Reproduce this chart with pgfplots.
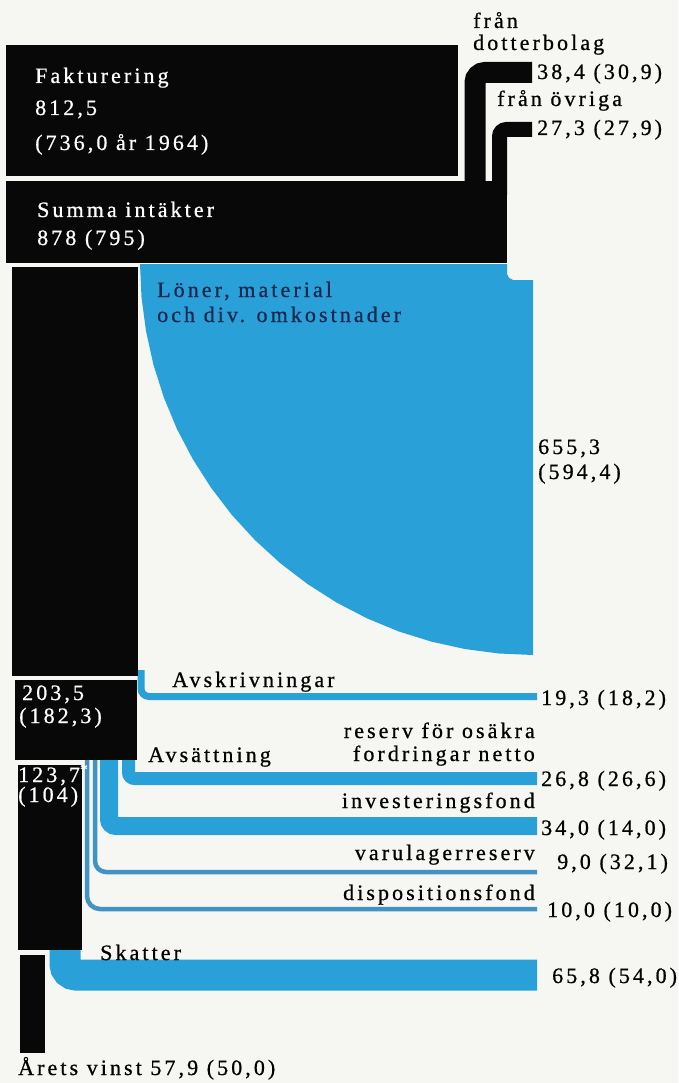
\documentclass[border=0pt]{standalone}
\usepackage{fontspec}
\setmainfont{Liberation Serif}[LetterSpace=14, FakeBold=0.7]
\usepackage{pgfplots}
\pgfplotsset{compat=1.18}

\definecolor{papper}{RGB}{246,246,242}
\definecolor{svart}{RGB}{8,8,8}
\definecolor{bla}{RGB}{41,161,216}
\definecolor{tunnbla}{RGB}{66,146,196}
\definecolor{marin}{RGB}{25,40,78}

\tikzset{
  lab/.style={anchor=base west, inner sep=0pt, font=\fontsize{22}{26}\selectfont, text=black},
  labr/.style={lab, anchor=base east},
  vit/.style={lab, text=white},
}

\begin{document}
\begin{tikzpicture}
\begin{axis}[
    width=678pt, height=1083pt, scale only axis,
    xmin=0, xmax=678, ymin=0, ymax=1083,
    y dir=reverse,
    hide axis,
    clip=false,
  ]

  % bakgrund
  \addplot[fill=papper, draw=none] coordinates {(0,0) (678,0) (678,1083) (0,1083)};

  % Löner, material och div. omkostnader
  \addplot[fill=bla, draw=none] coordinates {
    (140,264) (507,264) (507,274) (509,278) (513,280) (533,280) (533,655)
    (498.7,653.5) (464.8,649.0) (431.3,641.6) (398.6,631.4) (366.9,618.3)
    (336.5,602.5) (307.6,584.1) (280.4,563.3) (255.1,540.2) (231.9,515.0)
    (211.1,487.8) (192.7,459.0) (176.8,428.7) (163.7,397.1) (153.4,364.5)
    (146.0,331.1) (141.5,297.2) (140,264)
  };

  % intäkter från dotterbolag och övriga
  \addplot[draw=svart, line width=21pt, rounded corners=10pt] coordinates {(532,72.5) (475,72.5) (475,195)};
  \addplot[draw=svart, line width=15pt, rounded corners=7pt] coordinates {(532,129.5) (499.5,129.5) (499.5,195)};

  % utflöden
  \addplot[draw=bla, line width=7pt, rounded corners=8pt] coordinates {(141,670) (141,696.5) (537,696.5)};
  \addplot[draw=bla, line width=13pt, rounded corners=6pt] coordinates {(128.5,755) (128.5,778.5) (537,778.5)};
  \addplot[draw=bla, line width=18pt, rounded corners=7pt] coordinates {(109,755) (109,826) (537,826)};
  \addplot[draw=tunnbla, line width=4.5pt, rounded corners=11pt] coordinates {(95,755) (95,872) (537,872)};
  \addplot[draw=tunnbla, line width=4.5pt, rounded corners=13pt] coordinates {(87,755) (87,909) (537,909)};
  \addplot[draw=bla, line width=31pt, rounded corners=11pt] coordinates {(65,940) (65,975) (537,975)};

  % svarta block
  \addplot[fill=svart, draw=none] coordinates {(6,45) (458,45) (458,176) (6,176)};
  \addplot[fill=svart, draw=none] coordinates {(6,181) (507,181) (507,263) (6,263)};
  \addplot[fill=svart, draw=none] coordinates {(12,267) (138,267) (138,676) (12,676)};
  \addplot[fill=svart, draw=none] coordinates {(15,680) (137,680) (137,760) (15,760)};
  \addplot[fill=svart, draw=none] coordinates {(18,765) (82,765) (82,950) (18,950)};
  \addplot[fill=svart, draw=none] coordinates {(20,955) (45,955) (45,1053) (20,1053)};

  % texter
  \node[vit] at (axis cs:35,83) {Fakturering};
  \node[vit] at (axis cs:35,115) {812,5};
  \node[vit] at (axis cs:35,150) {(736,0 år 1964)};
  \node[vit] at (axis cs:37,217) {Summa intäkter};
  \node[vit] at (axis cs:37,245) {878 (795)};

  \node[lab] at (axis cs:473,28) {från};
  \node[lab] at (axis cs:473,50) {dotterbolag};
  \node[lab] at (axis cs:537,79) {38,4 (30,9)};
  \node[lab] at (axis cs:497,106) {från övriga};
  \node[lab] at (axis cs:537,135) {27,3 (27,9)};

  \node[lab, text=marin] at (axis cs:157,297) {Löner, material};
  \node[lab, text=marin] at (axis cs:157,322) {och div. omkostnader};
  \node[lab] at (axis cs:538,454) {655,3};
  \node[lab] at (axis cs:538,479) {(594,4)};

  \node[lab] at (axis cs:172,687) {Avskrivningar};
  \node[lab] at (axis cs:541,705) {19,3 (18,2)};
  \node[vit] at (axis cs:22,700) {203,5};
  \node[vit] at (axis cs:19,723) {(182,3)};
  \node[vit] at (axis cs:18,782) {123,7\textsuperscript{*}};
  \node[vit] at (axis cs:18,802) {(104)};

  \node[lab] at (axis cs:148,762) {Avsättning};
  \node[labr] at (axis cs:535,738) {reserv för osäkra};
  \node[labr] at (axis cs:535,761) {fordringar netto};
  \node[lab] at (axis cs:541,786) {26,8 (26,6)};
  \node[labr] at (axis cs:535,808) {investeringsfond};
  \node[lab] at (axis cs:541,835) {34,0 (14,0)};
  \node[labr] at (axis cs:535,860) {varulagerreserv};
  \node[lab] at (axis cs:557,869) {9,0 (32,1)};
  \node[labr] at (axis cs:535,900) {dispositionsfond};
  \node[lab] at (axis cs:547,917) {10,0 (10,0)};

  \node[lab] at (axis cs:100,960) {Skatter};
  \node[lab] at (axis cs:552,983) {65,8 (54,0)};
  \node[lab] at (axis cs:18,1075) {Årets vinst 57,9 (50,0)};

\end{axis}
\end{tikzpicture}
\end{document}
